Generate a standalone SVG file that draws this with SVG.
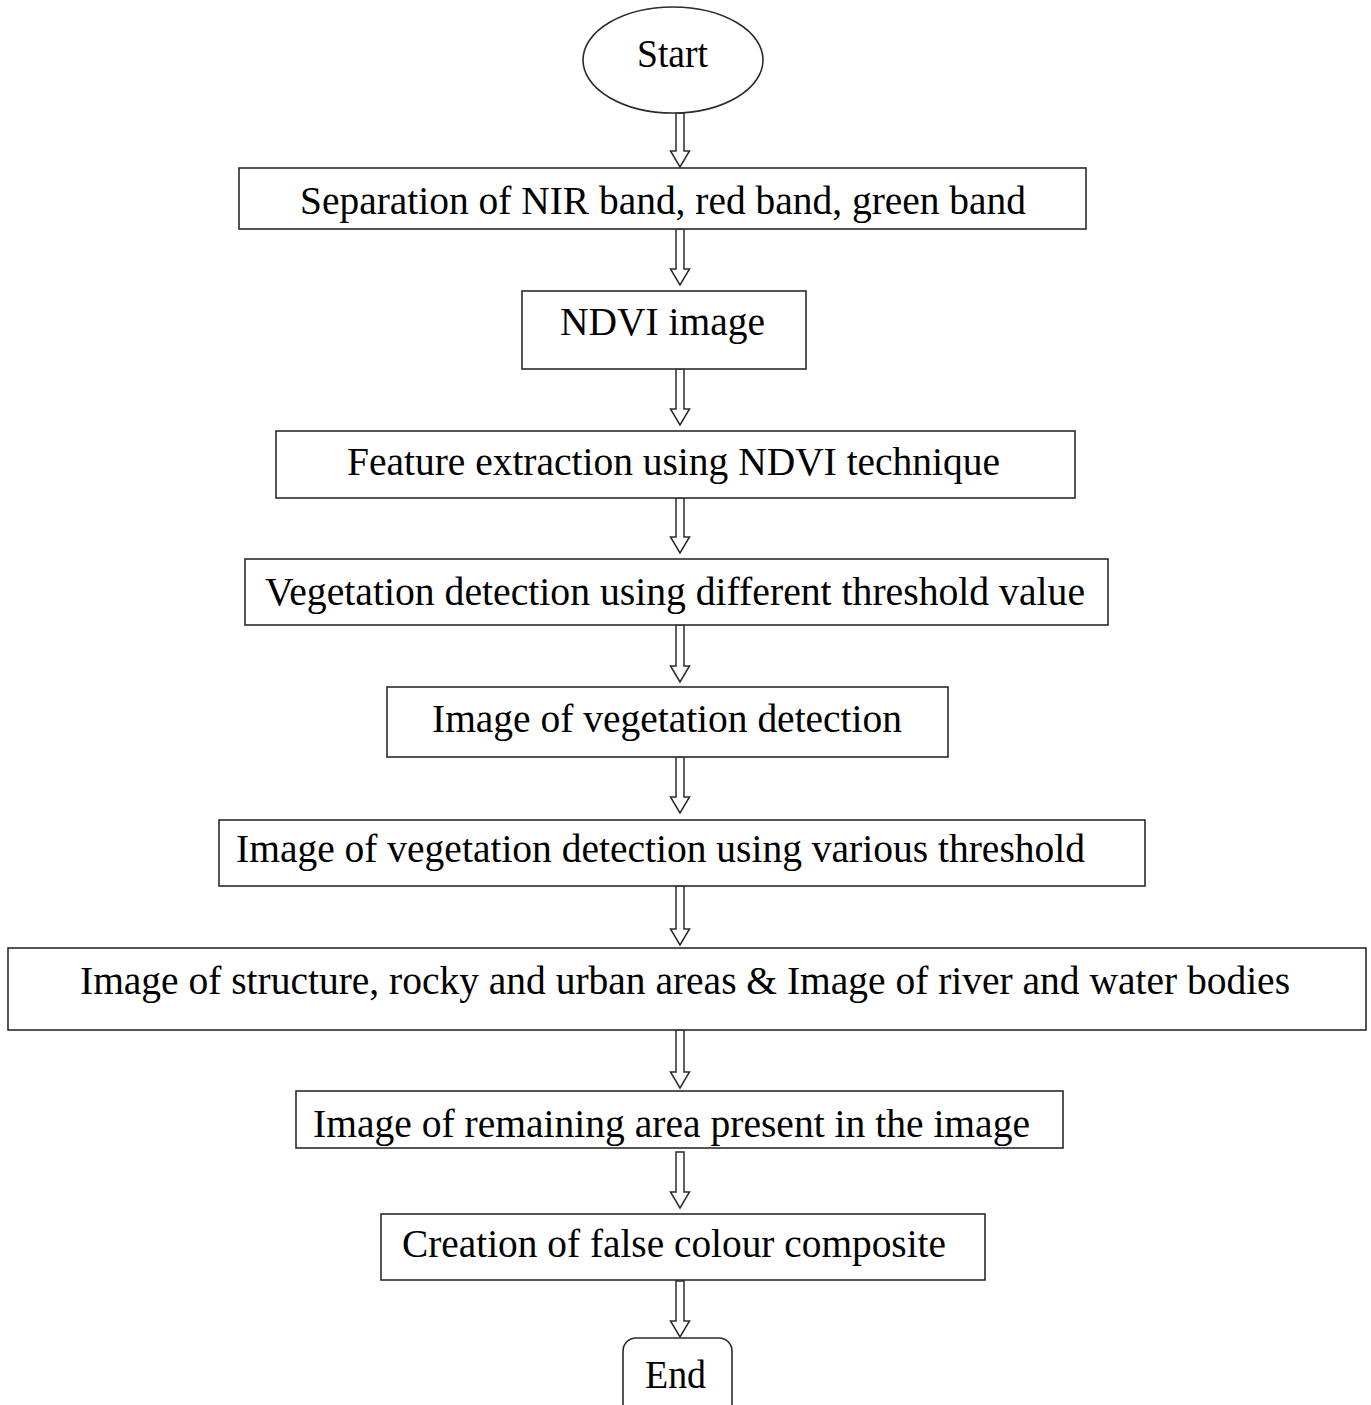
<svg xmlns="http://www.w3.org/2000/svg" width="1371" height="1405" viewBox="0 0 1371 1405">
<style>
.box{fill:#fff;stroke:#2b2b2b;stroke-width:1.6}
.arr{fill:#fff;stroke:#2b2b2b;stroke-width:1.5;stroke-linejoin:miter}
.t{font-family:"Liberation Serif","Times New Roman",serif;font-size:40px;fill:#000}
</style>
<defs>
<clipPath id="clip8"><rect x="296" y="1091" width="767" height="57"/></clipPath>
</defs>
<rect width="1371" height="1405" fill="#fff"/>
<g id="connectors">
<polygon class="arr" points="676,113 684,113 684,151 689.5,151 680,167 670.5,151 676,151"/>
<polygon class="arr" points="676,229 684,229 684,269 689.5,269 680,285 670.5,269 676,269"/>
<polygon class="arr" points="676,369 684,369 684,409 689.5,409 680,425 670.5,409 676,409"/>
<polygon class="arr" points="676,498 684,498 684,537 689.5,537 680,553 670.5,537 676,537"/>
<polygon class="arr" points="676,625 684,625 684,666 689.5,666 680,682 670.5,666 676,666"/>
<polygon class="arr" points="676,757 684,757 684,797 689.5,797 680,813 670.5,797 676,797"/>
<polygon class="arr" points="676,886 684,886 684,929 689.5,929 680,945 670.5,929 676,929"/>
<polygon class="arr" points="676,1030 684,1030 684,1072 689.5,1072 680,1088 670.5,1072 676,1072"/>
<polygon class="arr" points="676,1152 684,1152 684,1192 689.5,1192 680,1208 670.5,1192 676,1192"/>
<polygon class="arr" points="676,1281 684,1281 684,1321 689.5,1321 680,1337 670.5,1321 676,1321"/>
</g>
<g id="start">
<ellipse class="box" cx="673" cy="60" rx="90" ry="53"/>
<text class="t" x="637" y="67" textLength="71" lengthAdjust="spacingAndGlyphs">Start</text>
</g>
<g id="n1">
<rect class="box" x="239" y="168" width="847" height="61"/>
<text class="t" x="300" y="214" textLength="726" lengthAdjust="spacingAndGlyphs">Separation of NIR band, red band, green band</text>
</g>
<g id="n2">
<rect class="box" x="522" y="291" width="284" height="78"/>
<text class="t" x="560" y="335" textLength="205" lengthAdjust="spacingAndGlyphs">NDVI image</text>
</g>
<g id="n3">
<rect class="box" x="276" y="431" width="799" height="67"/>
<text class="t" x="347" y="475" textLength="653" lengthAdjust="spacingAndGlyphs">Feature extraction using NDVI technique</text>
</g>
<g id="n4">
<rect class="box" x="245" y="559" width="863" height="66"/>
<text class="t" x="265" y="605" textLength="820" lengthAdjust="spacingAndGlyphs">Vegetation detection using different threshold value</text>
</g>
<g id="n5">
<rect class="box" x="387" y="687" width="561" height="70"/>
<text class="t" x="432" y="732" textLength="470" lengthAdjust="spacingAndGlyphs">Image of vegetation detection</text>
</g>
<g id="n6">
<rect class="box" x="219" y="820" width="926" height="66"/>
<text class="t" x="236" y="862" textLength="849" lengthAdjust="spacingAndGlyphs">Image of vegetation detection using various threshold</text>
</g>
<g id="n7">
<rect class="box" x="8" y="948" width="1358" height="82"/>
<text class="t" x="80" y="994" textLength="1210" lengthAdjust="spacingAndGlyphs">Image of structure, rocky and urban areas &amp; Image of river and water bodies</text>
</g>
<g id="n8">
<rect class="box" x="296" y="1091" width="767" height="57"/>
<text class="t" x="313" y="1137" textLength="717" lengthAdjust="spacingAndGlyphs" clip-path="url(#clip8)">Image of remaining area present in the image</text>
</g>
<g id="n9">
<rect class="box" x="381" y="1214" width="604" height="66"/>
<text class="t" x="402" y="1257" textLength="544" lengthAdjust="spacingAndGlyphs">Creation of false colour composite</text>
</g>
<g id="end">
<rect class="box" x="623" y="1338" width="109" height="90" rx="13"/>
<text class="t" x="645" y="1388" textLength="61" lengthAdjust="spacingAndGlyphs">End</text>
</g>
</svg>
